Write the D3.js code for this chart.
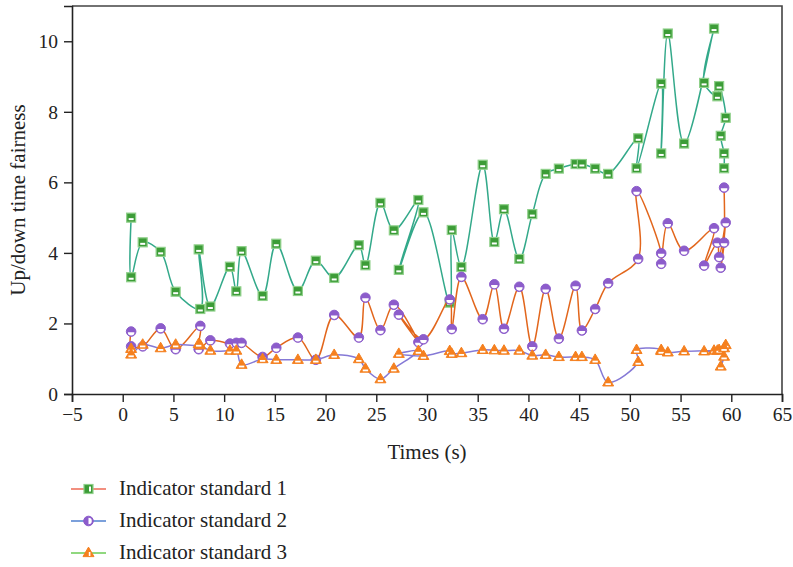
<!doctype html>
<html lang="en">
<head>
    <meta charset="utf-8"/>
    <title>Up/down time fairness</title>
    <script src="https://d3js.org/d3.v7.min.js"></script>
    <style>
        body { margin: 0; background: #fff; }
        text { font-family: "Liberation Serif", "DejaVu Serif", serif; fill: #222; }
    </style>
</head>
<body>

<svg id="chart"></svg>

<script>
    // sampling times (s), in the order the points are joined
    const times = [0.83, 0.83, 1.97, 3.74, 5.22, 7.65, 7.49, 8.64, 10.57, 11.2, 11.72, 13.79, 15.14, 17.27,
        19.04, 20.85, 23.28, 23.93, 25.41, 26.73, 29.15, 27.22, 29.65, 32.24, 32.44, 33.39, 35.49, 36.64,
        37.59, 39.1, 40.38, 41.7, 43.0, 44.65, 45.27, 46.58, 47.86, 50.82, 50.66, 53.09, 53.09, 53.74,
        55.35, 58.3, 57.32, 58.63, 58.8, 59.45, 58.96, 59.29, 59.29];

    const standard1 = [5.0, 3.31, 4.30, 4.03, 2.90, 2.41, 4.10, 2.48, 3.61, 2.91, 4.05, 2.78, 4.26, 2.92,
        3.78, 3.29, 4.22, 3.65, 5.42, 4.64, 5.50, 3.52, 5.15, 2.59, 4.65, 3.60, 6.50, 4.31,
        5.24, 3.83, 5.10, 6.24, 6.39, 6.52, 6.52, 6.39, 6.24, 7.25, 6.40, 8.80, 6.82, 10.22,
        7.10, 10.36, 8.82, 8.44, 8.73, 7.83, 7.32, 6.82, 6.40];

    const standard2 = [1.77, 1.35, 1.35, 1.86, 1.27, 1.93, 1.27, 1.52, 1.43, 1.45, 1.45, 1.05, 1.31, 1.60,
        0.97, 2.24, 1.60, 2.73, 1.81, 2.53, 1.47, 2.25, 1.55, 2.68, 1.84, 3.32, 2.12, 3.11,
        1.85, 3.04, 1.35, 2.98, 1.57, 3.07, 1.80, 2.41, 3.14, 3.83, 5.75, 3.99, 3.69, 4.84,
        4.06, 4.70, 3.64, 4.29, 3.88, 4.86, 3.58, 4.29, 5.85];

    const standard3 = [1.28, 1.12, 1.40, 1.30, 1.40, 1.38, 1.42, 1.23, 1.23, 1.23, 0.83, 0.99, 0.97, 0.97,
        0.97, 1.11, 0.99, 0.72, 0.42, 0.72, 1.22, 1.14, 1.08, 1.22, 1.14, 1.16, 1.25, 1.24,
        1.23, 1.23, 1.09, 1.11, 1.05, 1.05, 1.05, 0.97, 0.33, 0.91, 1.25, 1.25, 1.22, 1.18,
        1.21, 1.23, 1.21, 1.23, 1.25, 1.39, 0.78, 1.06, 1.30];

    const seriesNames = ["Indicator standard 1", "Indicator standard 2", "Indicator standard 3"];
    const xTicks = d3.range(-5, 66, 5);
    const yTicks = d3.range(0, 11, 2);

    const width = 793, height = 567;
    const margin = {top: 6, right: 11, bottom: 173, left: 72};

    const series = [
        {name: seriesNames[0], values: standard1, shape: "square", mark: "#3c9c37", edge: "#8fd08a", line: "#33a98a", legendLine: "#ee6a55"},
        {name: seriesNames[1], values: standard2, shape: "circle", mark: "#8c5ccb", edge: "#8c5ccb", line: "#e2661c", legendLine: "#4f80cf"},
        {name: seriesNames[2], values: standard3, shape: "triangle", mark: "#f5801f", edge: "#f5801f", line: "#8579d6", legendLine: "#6bcb55"}
    ];

    const svg = d3.select("#chart")
        .attr("width", width)
        .attr("height", height);

    const x = d3.scaleLinear().domain([-5, 65]).range([margin.left, width - margin.right]);
    const y = d3.scaleLinear().domain([0, 11]).range([height - margin.bottom, margin.top]);

    // frame (top + right)
    svg.append("path")
        .attr("d", `M${x(-5)},${y(11)}H${x(65)}V${y(0)}`)
        .attr("fill", "none")
        .attr("stroke", "#444")
        .attr("stroke-width", 1.6);

    // minor ticks first, then major ticks with labels
    const xAxisG = svg.append("g").attr("transform", `translate(0,${y(0)})`);
    xAxisG.call(d3.axisBottom(x).tickValues(d3.range(-2.5, 65, 5)).tickSize(4).tickFormat(""));
    xAxisG.call(d3.axisBottom(x).tickValues(xTicks).tickSize(8).tickPadding(5).tickFormat(d3.format("d")));

    const yAxisG = svg.append("g").attr("transform", `translate(${x(-5)},0)`);
    yAxisG.call(d3.axisLeft(y).tickValues(d3.range(1, 11, 2)).tickSize(4).tickFormat(""));
    yAxisG.call(d3.axisLeft(y).tickValues(yTicks).tickSize(8).tickPadding(6).tickFormat(d3.format("d")));

    svg.selectAll(".domain").attr("stroke", "#222").attr("stroke-width", 1.6);
    svg.selectAll(".tick line").attr("stroke", "#222").attr("stroke-width", 1.4);
    svg.selectAll(".tick text").style("font-size", "19.5px").attr("fill", "#222")
        .style("font-family", "'Liberation Serif', serif");

    // axis titles
    svg.append("text")
        .attr("x", (x(-5) + x(65)) / 2)
        .attr("y", 459)
        .attr("text-anchor", "middle")
        .style("font-size", "21px")
        .text("Times (s)");

    svg.append("text")
        .attr("transform", `translate(25,${(y(0) + y(11)) / 2}) rotate(-90)`)
        .attr("text-anchor", "middle")
        .style("font-size", "21px")
        .text("Up/down time fairness");

    const line = d3.line()
        .x(d => x(d[0]))
        .y(d => y(d[1]))
        .curve(d3.curveCatmullRom.alpha(0.5));

    function drawMarker(g, s, cx, cy, legend) {
        if (s.shape === "square") {
            g.append("rect").attr("x", cx - 4.5).attr("y", cy - 4.5).attr("width", 9).attr("height", 9)
                .attr("fill", s.mark).attr("stroke", s.edge).attr("stroke-width", 1.2);
            if (legend) {
                g.append("rect").attr("x", cx + 0.5).attr("y", cy - 2.5).attr("width", 2).attr("height", 5).attr("fill", "#fff");
            } else {
                g.append("rect").attr("x", cx - 2.5).attr("y", cy + 0.5).attr("width", 5).attr("height", 2).attr("fill", "#fff");
            }
        } else if (s.shape === "circle") {
            g.append("circle").attr("cx", cx).attr("cy", cy).attr("r", 4.8)
                .attr("fill", s.mark).attr("stroke", s.edge).attr("stroke-width", 1);
            const r = 3.3;
            const half = legend
                ? `M${cx},${cy - r}A${r},${r} 0 0 1 ${cx},${cy + r}Z`
                : `M${cx - r},${cy + 0.6}A${r},${r} 0 0 0 ${cx + r},${cy + 0.6}Z`;
            g.append("path").attr("d", half).attr("fill", "#fff");
        } else {
            const h = 9.5, w = 11;
            g.append("path")
                .attr("d", `M${cx},${cy - h * 0.62}L${cx + w / 2},${cy + h * 0.38}L${cx - w / 2},${cy + h * 0.38}Z`)
                .attr("fill", s.mark).attr("stroke", s.edge).attr("stroke-width", 1).attr("stroke-linejoin", "round");
            if (legend) {
                g.append("rect").attr("x", cx + 0.3).attr("y", cy - 1).attr("width", 1.6).attr("height", 4).attr("fill", "#fff");
            } else {
                g.append("rect").attr("x", cx - 2.7).attr("y", cy + 0.9).attr("width", 5.4).attr("height", 1.8).attr("fill", "#fff");
            }
        }
    }

    series.forEach(s => {
        const pts = times.map((t, i) => [t, s.values[i]]);
        const g = svg.append("g");
        g.append("path")
            .attr("d", line(pts))
            .attr("fill", "none")
            .attr("stroke", s.line)
            .attr("stroke-width", 1.5);
        pts.forEach(p => drawMarker(g, s, x(p[0]), y(p[1]), false));
    });

    // legend
    const legend = svg.append("g");
    series.forEach((s, i) => {
        const ly = 489 + i * 32;
        const g = legend.append("g");
        g.append("line").attr("x1", 71).attr("x2", 106).attr("y1", ly).attr("y2", ly)
            .attr("stroke", s.legendLine).attr("stroke-width", 1.6);
        drawMarker(g, s, 88.5, ly, true);
        g.append("text").attr("x", 119).attr("y", ly + 6)
            .style("font-size", "21px")
            .text(s.name);
    });
</script>

</body>
</html>
